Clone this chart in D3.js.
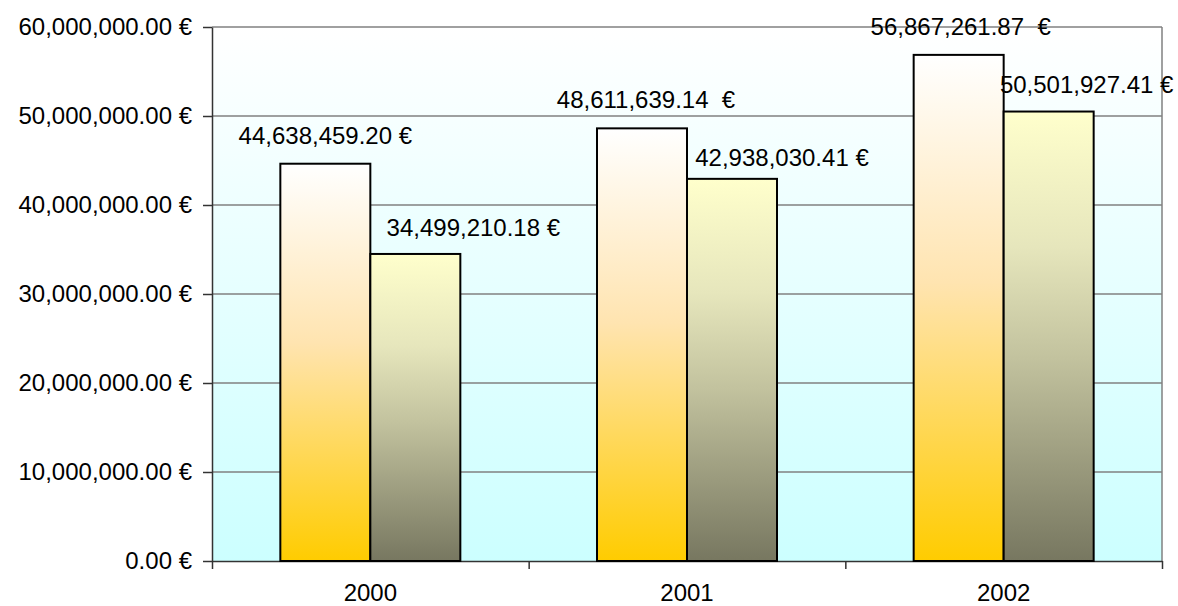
<!DOCTYPE html>
<html>
<head>
<meta charset="utf-8">
<script src="https://cdn.jsdelivr.net/npm/d3@7"></script>
<style>
  body { margin: 0; background: #fff; }
  text { font-family: "Liberation Sans", Arial, sans-serif; fill: #000; }
</style>
</head>
<body>
<svg width="1178" height="606"></svg>
<script>
// data
var years = ["2000", "2001", "2002"];
var series1 = [44638459.20, 48611639.14, 56867261.87];
var series2 = [34499210.18, 42938030.41, 50501927.41];
var labels1 = ["44,638,459.20 €", "48,611,639.14  €", "56,867,261.87  €"];
var labels2 = ["34,499,210.18 €", "42,938,030.41 €", "50,501,927.41 €"];
var yTicks = [0, 10000000, 20000000, 30000000, 40000000, 50000000, 60000000];

// label nudges (layout only, hand placed in original)
var shift1 = [[0, -20], [4, -20], [2, -20]];
var shift2 = [[58, -18], [50, -13], [38, -19]];

var svg = d3.select("svg"),
    margin = {top: 27, right: 16, bottom: 45, left: 212},
    width = 1178 - margin.left - margin.right,
    height = 606 - margin.top - margin.bottom,
    g = svg.append("g").attr("transform", "translate(" + margin.left + "," + margin.top + ")");

var defs = svg.append("defs");

function grad(id, stops) {
  var lg = defs.append("linearGradient").attr("id", id)
    .attr("x1", 0).attr("y1", 0).attr("x2", 0).attr("y2", 1);
  stops.forEach(function(s) {
    lg.append("stop").attr("offset", s[0]).attr("stop-color", s[1]);
  });
}
grad("bg", [[0, "#ffffff"], [1, "#ccffff"]]);
grad("g1", [[0, "#ffffff"], [0.45, "#ffe4b0"], [1, "#ffcc00"]]);
grad("g2", [[0, "#ffffcc"], [0.3, "#e6e6bc"], [0.55, "#c2c29e"], [1, "#777760"]]);

var x0 = d3.scaleBand().domain(years).range([0, width]);
var x1 = d3.scaleBand().domain([0, 1]).range([x0.bandwidth() / 2 - 90, x0.bandwidth() / 2 + 90]);
var y = d3.scaleLinear().domain([0, 60000000]).range([height, 0]);

// plot background
g.append("rect").attr("width", width).attr("height", height).attr("fill", "url(#bg)");

// gridlines
g.append("g").selectAll("line")
  .data(yTicks.slice(1))
  .enter().append("line")
    .attr("x1", 0).attr("x2", width)
    .attr("y1", function(d) { return y(d); })
    .attr("y2", function(d) { return y(d); })
    .attr("stroke", "#808080").attr("stroke-width", 1.5);

g.append("line")
  .attr("x1", width).attr("x2", width).attr("y1", 0).attr("y2", height)
  .attr("stroke", "#808080").attr("stroke-width", 1.5);

// y axis
var fmt = function(d) { return d3.format(",.2f")(d) + " €"; };
var yAxis = g.append("g")
  .call(d3.axisLeft(y).tickValues(yTicks).tickFormat(fmt).tickSize(9).tickSizeOuter(0).tickPadding(11));
yAxis.select(".domain").attr("stroke", "#333").attr("stroke-width", 1.5);
yAxis.selectAll(".tick line").attr("stroke", "#333").attr("stroke-width", 1.5);
yAxis.selectAll("text").attr("font-size", 24).attr("font-family", null);

// x axis
var bounds = d3.scaleLinear().domain([0, 3]).range([0, width]);
var xTicks = g.append("g").attr("transform", "translate(0," + height + ")")
  .call(d3.axisBottom(bounds).tickValues([0, 1, 2, 3]).tickFormat("").tickSize(8).tickSizeOuter(0));
xTicks.select(".domain").attr("stroke", "#333").attr("stroke-width", 1.5);
xTicks.selectAll(".tick line").attr("stroke", "#333").attr("stroke-width", 1.5);

g.append("g").selectAll("text")
  .data(years)
  .enter().append("text")
    .attr("x", function(d) { return x0(d) + x0.bandwidth() / 2; })
    .attr("y", height + 40)
    .attr("text-anchor", "middle")
    .attr("font-size", 24)
    .text(function(d) { return d; });

// bars
var groups = g.append("g").selectAll("g")
  .data(years)
  .enter().append("g")
    .attr("transform", function(d) { return "translate(" + x0(d) + ",0)"; });

groups.selectAll("rect")
  .data(function(d, i) { return [series1[i], series2[i]]; })
  .enter().append("rect")
    .attr("x", function(d, j) { return x1(j); })
    .attr("y", function(d) { return y(d); })
    .attr("width", x1.bandwidth())
    .attr("height", function(d) { return height - y(d); })
    .attr("fill", function(d, j) { return j === 0 ? "url(#g1)" : "url(#g2)"; })
    .attr("stroke", "#000")
    .attr("stroke-width", 2);

// data labels
groups.append("text")
  .attr("x", function(d, i) { return x1(0) + x1.bandwidth() / 2 + shift1[i][0]; })
  .attr("y", function(d, i) { return y(series1[i]) + shift1[i][1]; })
  .attr("text-anchor", "middle")
  .attr("font-size", 24)
  .style("white-space", "pre")
  .text(function(d, i) { return labels1[i]; });

groups.append("text")
  .attr("x", function(d, i) { return x1(1) + x1.bandwidth() / 2 + shift2[i][0]; })
  .attr("y", function(d, i) { return y(series2[i]) + shift2[i][1]; })
  .attr("text-anchor", "middle")
  .attr("font-size", 24)
  .style("white-space", "pre")
  .text(function(d, i) { return labels2[i]; });
</script>
</body>
</html>
